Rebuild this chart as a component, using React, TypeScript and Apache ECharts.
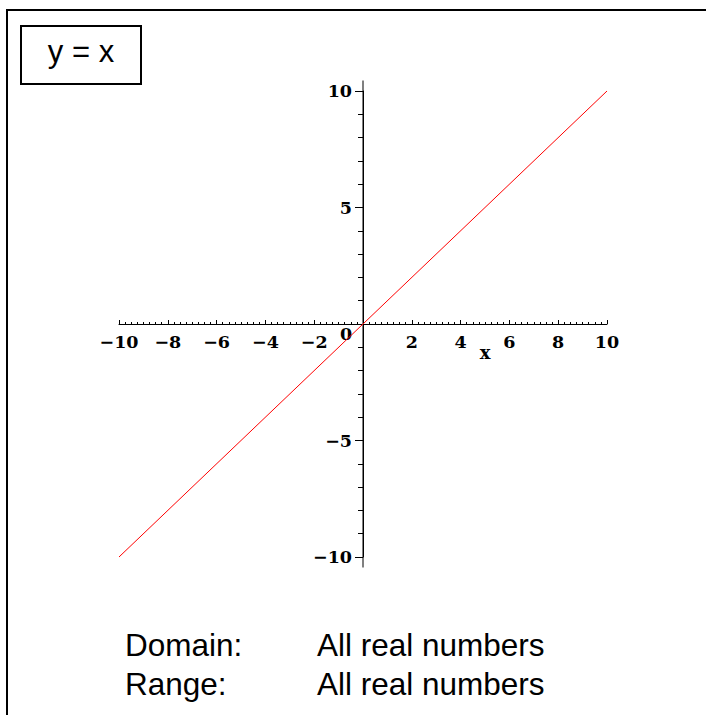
import React, { useEffect, useRef } from "react";
import * as echarts from "echarts";

// Plotted function y = x, sampled at the ends of the view window
const lineX = [-10, 10];
const lineY = [-10, 10];

// Axis windows and tick steps
const xRange = [-10, 10];
const yRange = [-10, 10];
const xStep = 2;
const yStep = 5;
// The vertical axis line runs slightly past the ±10 ticks
const yAxisSpan = [-10.45, 10.45];

// Caption texts
const titleText = "y = x";
const infoLabels = ["Domain:", "Range:"];
const infoValues = ["All real numbers", "All real numbers"];

const MINUS = "\u2212";
const fmt = (v: number) => (v === 0 ? "" : v < 0 ? MINUS + Math.abs(v) : String(v));

const SERIF = "DejaVu Serif";
const SANS = "Liberation Sans, Arial, sans-serif";

export default function App() {
  const ref = useRef<HTMLDivElement>(null);

  useEffect(() => {
    if (!ref.current) return;
    const chart = echarts.init(ref.current, null, { renderer: "svg" });

    const axisText = { fontFamily: SERIF, fontSize: 17.5, fontWeight: "bold", color: "#000" };

    chart.setOption({
      animation: false,
      backgroundColor: "#fff",
      grid: { left: 119, right: 99, top: 91, bottom: 158, containLabel: false },
      xAxis: {
        type: "value",
        min: xRange[0],
        max: xRange[1],
        interval: xStep,
        offset: 0,
        axisLine: { onZero: false, lineStyle: { color: "#000", width: 1 } },
        axisTick: { inside: true, length: 4, lineStyle: { color: "#000" } },
        minorTick: { show: true, splitNumber: 8, length: 2, lineStyle: { color: "#000" } },
        splitLine: { show: false },
        axisLabel: { ...axisText, margin: 9, formatter: fmt },
      },
      yAxis: {
        type: "value",
        min: yRange[0],
        max: yRange[1],
        interval: yStep,
        offset: 0,
        axisLine: { onZero: false, lineStyle: { color: "#000", width: 1 } },
        axisTick: { inside: false, length: 8, lineStyle: { color: "#000" } },
        minorTick: { show: true, splitNumber: 5, length: 5, lineStyle: { color: "#000" } },
        splitLine: { show: false },
        axisLabel: { ...axisText, margin: 11, formatter: fmt },
      },
      series: [
        {
          type: "line",
          data: [
            [0, yAxisSpan[0]],
            [0, yAxisSpan[1]],
          ],
          showSymbol: false,
          clip: false,
          silent: true,
          lineStyle: { color: "#000", width: 1 },
          z: 1,
        },
        {
          type: "line",
          data: lineX.map((x, i) => [x, lineY[i]]),
          showSymbol: false,
          lineStyle: { color: "#ff0000", width: 1 },
          z: 3,
        },
      ],
    });

    // Move both axes so they cross at the origin
    const origin = chart.convertToPixel({ gridIndex: 0 }, [0, 0]) as number[];
    const corner = chart.convertToPixel({ gridIndex: 0 }, [xRange[0], yRange[0]]) as number[];
    const xNamePos = chart.convertToPixel({ gridIndex: 0 }, [5, 0]) as number[];

    chart.setOption({
      xAxis: { offset: origin[1] - corner[1] },
      yAxis: { offset: corner[0] - origin[0] },
      graphic: [
        // outer frame (left and top edges)
        {
          type: "polyline",
          shape: { points: [[7, 715], [7, 10], [706, 10]] },
          style: { stroke: "#000", lineWidth: 2, fill: null },
        },
        // title box
        {
          type: "rect",
          shape: { x: 21, y: 26, width: 120, height: 58 },
          style: { stroke: "#000", lineWidth: 2, fill: "#fff" },
        },
        {
          type: "text",
          x: 81,
          y: 51,
          style: { text: titleText, font: `31px ${SANS}`, fill: "#000", textAlign: "center", textVerticalAlign: "middle" },
        },
        // origin label
        {
          type: "text",
          x: origin[0] - 17,
          y: origin[1] + 9.5,
          style: { text: "0", font: `bold 17.5px ${SERIF}`, fill: "#000", textAlign: "center", textVerticalAlign: "middle" },
        },
        // horizontal axis name
        {
          type: "text",
          x: xNamePos[0],
          y: xNamePos[1] + 28.5,
          style: { text: "x", font: `bold 18px ${SERIF}`, fill: "#000", textAlign: "center", textVerticalAlign: "middle" },
        },
        // domain / range captions
        ...infoLabels.flatMap((label, i) => [
          {
            type: "text",
            x: 125,
            y: 645 + i * 38.5,
            style: { text: label, font: `31.5px ${SANS}`, fill: "#000", textAlign: "left", textVerticalAlign: "middle" },
          },
          {
            type: "text",
            x: 317,
            y: 645 + i * 38.5,
            style: { text: infoValues[i], font: `31.5px ${SANS}`, fill: "#000", textAlign: "left", textVerticalAlign: "middle" },
          },
        ]),
      ],
    });

    return () => chart.dispose();
  }, []);

  return (
    <div
      ref={ref}
      style={{ position: "absolute", left: 0, top: 0, width: 706, height: 715, background: "#fff" }}
    />
  );
}
